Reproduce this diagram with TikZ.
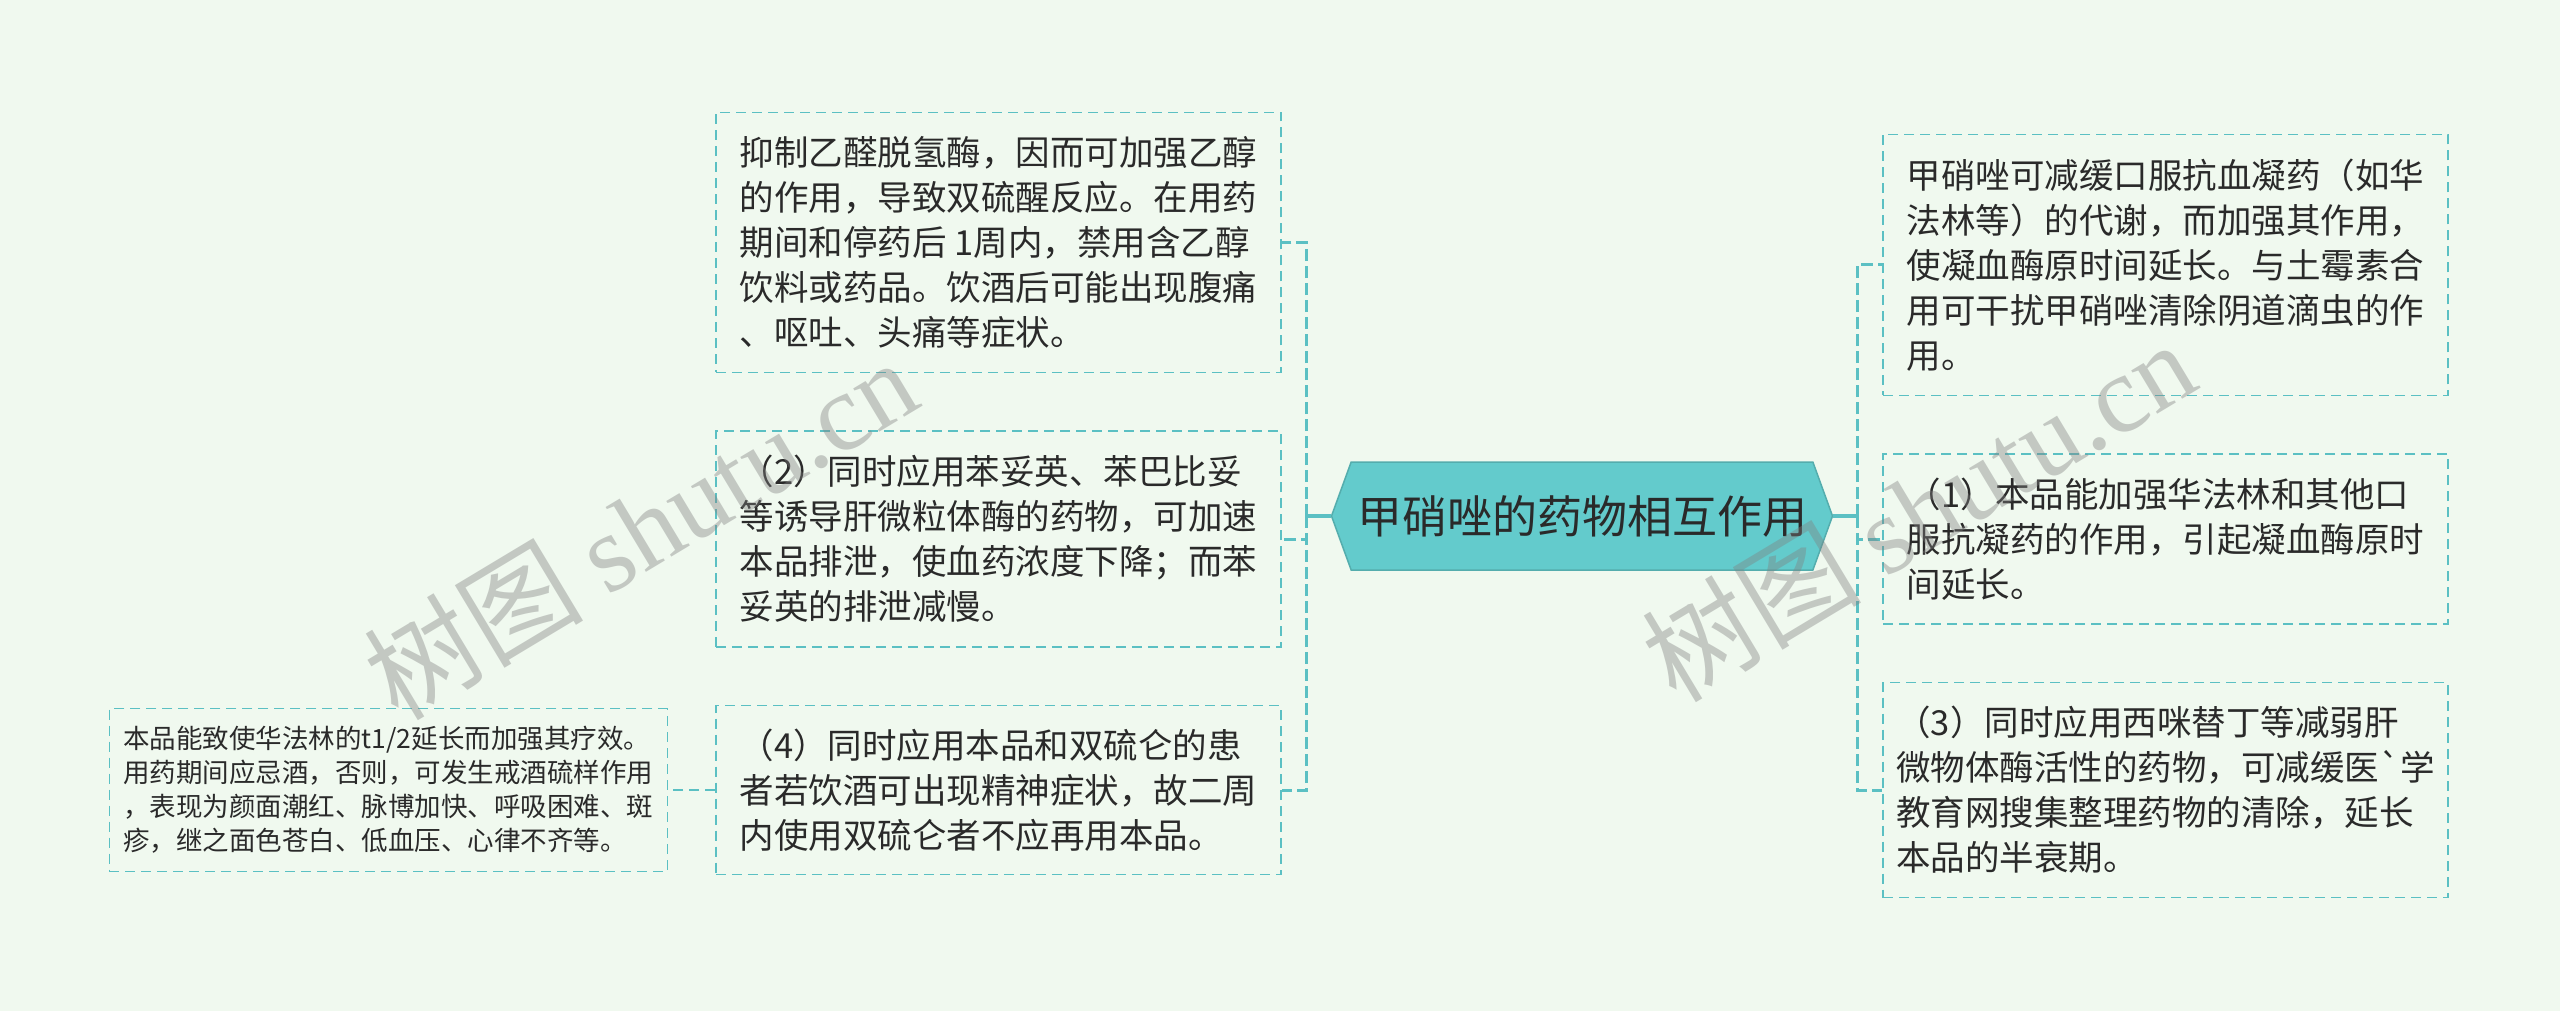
\documentclass[tikz,border=0pt]{standalone}
\usepackage{fontspec}
\newfontfamily\zh{Noto Sans CJK SC}
\newfontfamily\wmserif{Liberation Serif}
\usetikzlibrary{positioning,shapes.symbols}
\definecolor{fond}{HTML}{F0F9EF}
\definecolor{bleu}{HTML}{5BC0C3}
\definecolor{racine}{HTML}{63CBCC}
\definecolor{encre}{HTML}{2A2A2A}
\tikzstyle{every picture}=[node distance=57pt]
\tikzstyle{boite}=[draw=bleu, line width=1.6pt, dash pattern=on 10pt off 6pt,%
	text=encre, align=left, minimum width=565pt, inner sep=0pt,%
	font=\zh\fontsize{34.5pt}{45pt}\selectfont]
\tikzstyle{petite}=[boite, minimum width=558pt, font=\zh\fontsize{26.5pt}{34pt}\selectfont]
\tikzstyle{centre}=[signal, signal to=west and east, signal pointer angle=140,%
	fill=racine, draw=racine!85!black, line width=1.5pt, text=encre,%
	minimum width=501pt, minimum height=108pt, font=\zh\fontsize{45pt}{50pt}\selectfont]
\tikzstyle{lien}=[draw=bleu, line width=3pt, dash pattern=on 12pt off 5pt]
\tikzstyle{tronc}=[draw=bleu, line width=3.5pt]
\tikzstyle{filigrane}=[rotate=31, text=gray, opacity=0.4, font=\fontsize{110pt}{120pt}\selectfont]

\begin{document}
\begin{tikzpicture}
	\fill[fond] (0,0) rectangle (2560pt,-1011pt);
	\useasboundingbox (0,0) rectangle (2560pt,-1011pt);
	\node (M) [centre] at (1582pt,-516pt) {甲硝唑的药物相互作用};
	% cote gauche
	\node (L2) [boite, minimum height=216pt, left=49pt of M, yshift=-23pt] {%
		（2）同时应用苯妥英、苯巴比妥\\
		等诱导肝微粒体酶的药物，可加速\\
		本品排泄，使血药浓度下降；而苯\\
		妥英的排泄减慢。};
	\node (L1) [boite, minimum height=260pt, above=of L2] {%
		抑制乙醛脱氢酶，因而可加强乙醇\\
		的作用，导致双硫醒反应。在用药\\
		期间和停药后 1周内，禁用含乙醇\\
		饮料或药品。饮酒后可能出现腹痛\\
		、呕吐、头痛等症状。};
	\node (L3) [boite, minimum height=169pt, below=of L2] {%
		（4）同时应用本品和双硫仑的患\\
		者若饮酒可出现精神症状，故二周\\
		内使用双硫仑者不应再用本品。};
	\node (LL) [petite, minimum height=163pt, left=47pt of L3] {%
		本品能致使华法林的t1/2延长而加强其疗效。\\
		用药期间应忌酒，否则，可发生戒酒硫样作用\\
		，表现为颜面潮红、脉博加快、呼吸困难、斑\\
		疹，继之面色苍白、低血压、心律不齐等。};
	% cote droit
	\node (R2) [boite, minimum height=170pt, right=49pt of M, yshift=-23pt] {%
		（1）本品能加强华法林和其他口\\
		服抗凝药的作用，引起凝血酶原时\\
		间延长。};
	\node (R1) [boite, minimum height=261pt, above=of R2] {%
		甲硝唑可减缓口服抗血凝药（如华\\
		法林等）的代谢，而加强其作用，\\
		使凝血酶原时间延长。与土霉素合\\
		用可干扰甲硝唑清除阴道滴虫的作\\
		用。};
	\node (R3) [boite, minimum height=215pt, below=of R2] {%
		（3）同时应用西咪替丁等减弱肝\\
		微物体酶活性的药物，可减缓医{\char"60}学\\
		教育网搜集整理药物的清除，延长\\
		本品的半衰期。};
	% liens
	\draw[tronc] (M.west) -- ++(-24pt,0) coordinate (G);
	\draw[tronc] (M.east) -- ++(24pt,0) coordinate (D);
	\draw[lien] (G) |- (L1.east) (G) |- (L2.east) (G) |- (L3.east);
	\draw[lien] (D) |- (R1.west) (D) |- (R2.west) (D) |- (R3.west);
	\draw[boite] (L3.west) -- (LL.east);
	% filigranes
	\node (W1) [filigrane] at (640pt,-528pt) {\zh 树图 \wmserif shutu.cn};
	\node (W2) [filigrane] at (1918pt,-510pt) {\zh 树图 \wmserif shutu.cn};
\end{tikzpicture}
\end{document}
